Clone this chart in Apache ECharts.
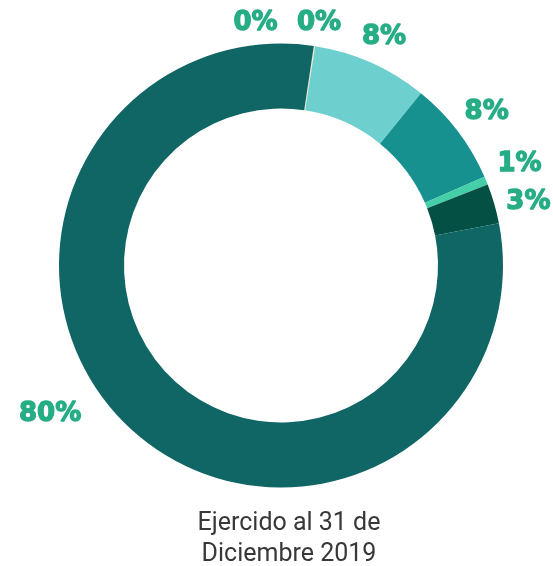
<!DOCTYPE html>
<html>
<head>
<meta charset="utf-8">
<script src="https://cdn.jsdelivr.net/npm/echarts@6/dist/echarts.min.js"></script>
<style>
  html, body { margin: 0; padding: 0; background: #fff; }
  #main { width: 553px; height: 566px; }
</style>
</head>
<body>
<div id="main"></div>
<script>
var categories = ['A', 'B', 'C', 'D', 'E', 'F', 'G'];
var values = [0.05, 0.05, 8.4, 7.6, 0.6, 2.9, 80.45];
var colors = ['#f3dcae', '#e9e2c4', '#6dcfce', '#17918f', '#45cfa8', '#055045', '#106565'];
var caption = 'Ejercido al 31 de\nDiciembre 2019';

var cx = 281, cy = 265.5, rOut = 222, rIn = 157;
var startAngle = 81.5;
var labelGap = 10;

var chart = echarts.init(document.getElementById('main'));

var total = values.reduce(function (a, b) { return a + b; }, 0);
// mid angle of every slice, degrees clockwise from 12 o'clock
var midAngles = [];
var acc = 90 - startAngle;
values.forEach(function (v) {
    var span = v / total * 360;
    midAngles.push(acc + span / 2);
    acc += span;
});

// label boxes just outside the ring, then spread the ones that collide
var labelPos = [];
function layoutLabels(rects) {
    labelPos = rects.map(function (rc, i) {
        var a = midAngles[i] * Math.PI / 180;
        var s = Math.sin(a), c = Math.cos(a);
        var r;
        if (i === values.length - 1) {
            // big slice label sits lower on the left side
            a += 14 * Math.PI / 180;
            s = Math.sin(a); c = Math.cos(a);
            r = 273;
        } else {
            r = rOut + labelGap + Math.abs(s) * rc.width / 2 + Math.abs(c) * rc.height / 2;
        }
        return { x: cx + r * s, y: cy - r * c, w: rc.width, h: rc.height };
    });
    for (var i = 1; i < labelPos.length; i++) {
        var p = labelPos[i], q = labelPos[i - 1];
        if (Math.abs(p.y - q.y) < 38 && Math.abs(p.x - q.x) < p.w) {
            if (Math.abs(p.y - q.y) < 2) {
                q.x = p.x - p.w - 18;
            } else {
                var mid = (p.y + q.y) / 2, gap = 38;
                q.y = mid - gap / 2;
                p.y = mid + gap / 2;
            }
        }
    }
}

var option = {
    animation: false,
    title: {
        text: caption,
        left: 284,
        top: 503,
        textAlign: 'center',
        textStyle: {
            fontFamily: 'Roboto',
            fontWeight: 400,
            fontSize: 25,
            lineHeight: 31,
            color: '#383838'
        }
    },
    series: [
        {
            type: 'pie',
            center: [cx, cy],
            radius: [rIn, rOut],
            startAngle: startAngle,
            clockwise: true,
            avoidLabelOverlap: false,
            label: {
                show: true,
                position: 'outside',
                formatter: function (p) { return Math.round(p.percent) + '%'; },
                fontFamily: 'DejaVu Sans',
                fontWeight: 'bold',
                fontSize: 26,
                color: '#26ad86',
                textBorderColor: '#26ad86',
                textBorderWidth: 1.3
            },
            labelLine: { show: false },
            labelLayout: function (p) {
                var i = p.dataIndex;
                if (i === 0) {
                    var rects = values.map(function () { return p.labelRect; });
                    layoutLabels(rects);
                }
                var lp = labelPos[i];
                return { x: lp.x, y: lp.y + 3.5, align: 'center', verticalAlign: 'middle' };
            },
            data: categories.map(function (c, i) {
                return { name: c, value: values[i], itemStyle: { color: colors[i] } };
            })
        }
    ]
};

chart.setOption(option);
</script>
</body>
</html>
